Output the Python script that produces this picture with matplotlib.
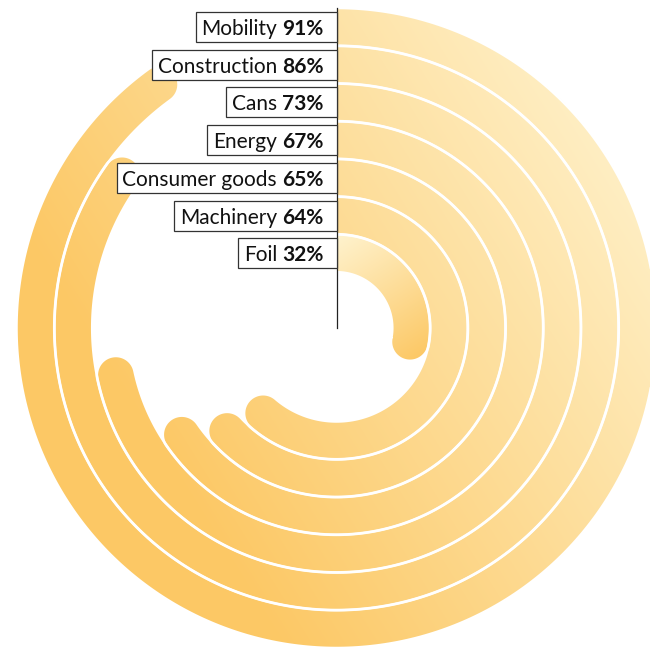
import matplotlib
matplotlib.use("Agg")
import matplotlib.pyplot as plt
import numpy as np
from matplotlib.patches import PathPatch, Rectangle
from matplotlib.path import Path
from matplotlib.colors import to_rgb

# share of each sector, outermost ring first
sectors = ["Mobility", "Construction", "Cans", "Energy", "Consumer goods", "Machinery", "Foil"]
shares = [91, 86, 73, 67, 65, 64, 32]

W, H = 650, 652
CX, CY = 336.5, 328.0
R_OUTER_MID = 301.0
PITCH = 37.7
HALF = 19.0
LIGHT = np.array(to_rgb("#fff3cf"))
DARK = np.array(to_rgb("#fcc865"))
SWEEP_DIR = np.array([-0.85, 0.53])  # light top-right -> dark bottom-left
FONT = "Lato"
FS = 15


def pt(theta, rho):
    # clockwise from 12 o'clock, y pointing down
    return CX + rho * np.sin(theta), CY - rho * np.cos(theta)


def ring_path(r, value):
    th_end = value / 100 * 2 * np.pi
    th_cap = th_end - HALF / r
    ts = np.linspace(0, th_cap, 400)
    ox, oy = pt(ts, r + HALF)
    ix, iy = pt(ts[::-1], r - HALF)
    cx, cy = pt(th_cap, r)
    n = np.array([np.sin(th_cap), -np.cos(th_cap)])
    t = np.array([np.cos(th_cap), np.sin(th_cap)])
    phi = np.linspace(0, np.pi, 60)
    capx = cx + HALF * (n[0] * np.cos(phi) + t[0] * np.sin(phi))
    capy = cy + HALF * (n[1] * np.cos(phi) + t[1] * np.sin(phi))
    xs = np.concatenate([ox, capx, ix])
    ys = np.concatenate([oy, capy, iy])
    verts = np.column_stack([xs, ys])
    verts = np.vstack([verts, verts[:1]])
    codes = [Path.MOVETO] + [Path.LINETO] * (len(verts) - 2) + [Path.CLOSEPOLY]
    return Path(verts, codes), verts, th_end


fig = plt.figure(figsize=(W / 100, H / 100), dpi=100)
ax = fig.add_axes([0, 0, 1, 1])
ax.set_xlim(0, W)
ax.set_ylim(H, 0)
ax.axis("off")

gx, gy = np.meshgrid(np.arange(W) + 0.5, np.arange(H) + 0.5)
r_max = R_OUTER_MID + HALF

for i, (name, val) in enumerate(zip(sectors, shares)):
    r = R_OUTER_MID - i * PITCH
    path, verts, th_end = ring_path(r, val)
    if val < 50:
        # short arcs get their own gradient, start -> end
        sx, sy = pt(0, r)
        ex, ey = pt(th_end, r)
        d = np.array([ex - sx, ey - sy])
        d /= np.hypot(*d)
        proj = verts[:, 0] * d[0] + verts[:, 1] * d[1]
        p = gx * d[0] + gy * d[1]
        f = (p - proj.min()) / (proj.max() - proj.min())
    else:
        p = (gx - CX) * SWEEP_DIR[0] + (gy - CY) * SWEEP_DIR[1]
        f = 0.12 + 1.05 * (p + r_max) / (2 * r_max)
    f = np.clip(f, 0, 1)[..., None]
    img = LIGHT + f * (DARK - LIGHT)
    patch = PathPatch(path, facecolor="none", edgecolor="none")
    ax.add_patch(patch)
    im = ax.imshow(img, extent=(0, W, H, 0), origin="upper", interpolation="bilinear", zorder=1)
    im.set_clip_path(patch)
    ax.add_patch(PathPatch(path, facecolor="none", edgecolor="white", lw=1.8, zorder=2))

ax.plot([CX, CX], [CY - r_max, CY], color="#222222", lw=0.9, zorder=4)

renderer = fig.canvas.get_renderer()
for i, (name, val) in enumerate(zip(sectors, shares)):
    yc = CY - (R_OUTER_MID - i * PITCH)
    x_right = CX - 13
    pct = ax.text(x_right, yc, f"{val}%", ha="right", va="center_baseline",
                  fontsize=FS, fontweight="bold", family=FONT, color="#111111", zorder=6)
    bb = pct.get_window_extent(renderer).transformed(ax.transData.inverted())
    lbl = ax.text(bb.x0 - 5, yc, name, ha="right", va="center_baseline",
                  fontsize=FS, family=FONT, color="#111111", zorder=6)
    lb = lbl.get_window_extent(renderer).transformed(ax.transData.inverted())
    left = lb.x0 - 6
    ax.add_patch(Rectangle((left, yc - 15), CX - left, 30, facecolor="white",
                           edgecolor="#333333", lw=0.9, zorder=5))

fig.savefig("out.png", dpi=100)
